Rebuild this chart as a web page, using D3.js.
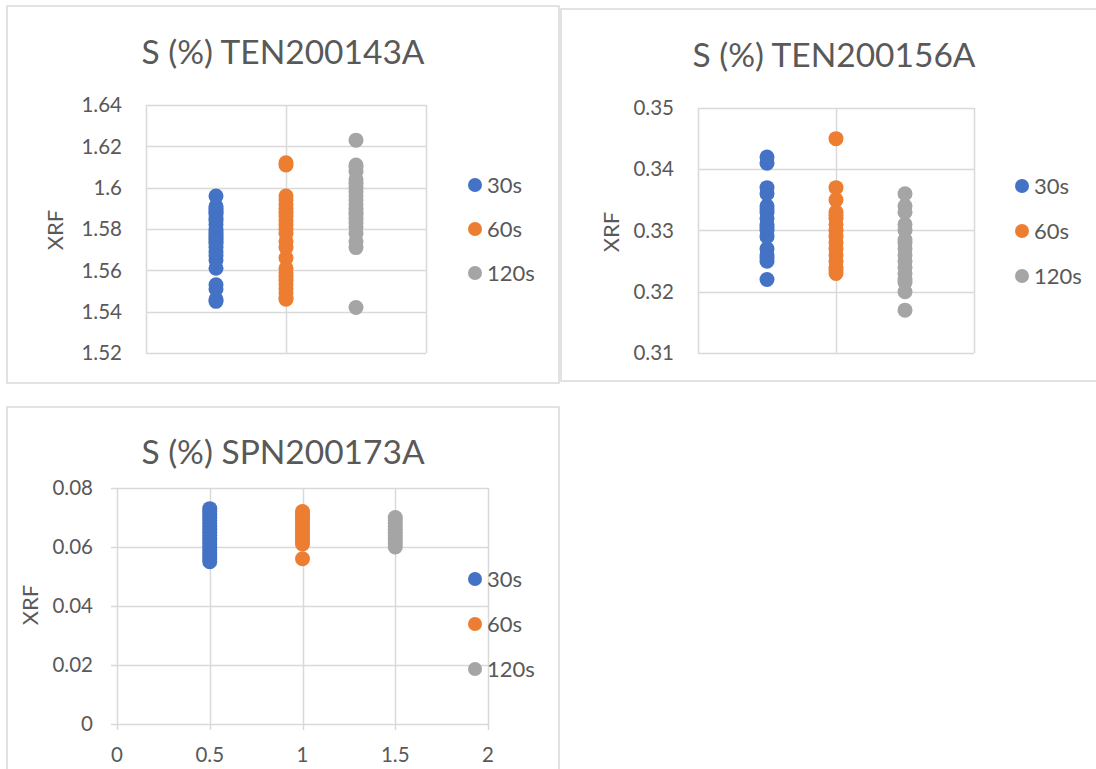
<!DOCTYPE html>
<html>
<head>
<meta charset="utf-8">
<script src="https://cdn.jsdelivr.net/npm/d3@7"></script>
<style>
  html, body { margin: 0; padding: 0; background: #fff; }
  svg { display: block; }
  text { font-family: Lato, "Open Sans", sans-serif; fill: #595959; }
</style>
</head>
<body>
<svg id="chart" width="1096" height="769"></svg>
<script>
// Series labels and the x position each series is plotted at
const seriesNames = ["30s", "60s", "120s"];
const seriesX = [0.5, 1, 1.5];
const seriesColors = ["#4472C4", "#ED7D31", "#A5A5A5"];

// S (%) TEN200143A — XRF readings per measuring time
const ten143_30s = [1.545, 1.546, 1.551, 1.553, 1.561, 1.565, 1.567, 1.569, 1.571, 1.573,
                    1.574, 1.575, 1.576, 1.577, 1.578, 1.579, 1.580, 1.582, 1.584, 1.585,
                    1.587, 1.588, 1.589, 1.590, 1.591, 1.596];
const ten143_60s = [1.546, 1.547, 1.549, 1.551, 1.553, 1.555, 1.557, 1.559, 1.561, 1.566,
                    1.571, 1.574, 1.578, 1.580, 1.582, 1.584, 1.586, 1.588, 1.590, 1.592,
                    1.594, 1.596, 1.611, 1.612];
const ten143_120s = [1.542, 1.571, 1.574, 1.578, 1.581, 1.583, 1.585, 1.587, 1.588, 1.590,
                     1.592, 1.594, 1.596, 1.598, 1.600, 1.602, 1.604, 1.608, 1.610, 1.611,
                     1.623];
const ten143_yTicks = [1.52, 1.54, 1.56, 1.58, 1.6, 1.62, 1.64];

// S (%) TEN200156A
const ten156_30s = [0.322, 0.325, 0.3255, 0.326, 0.327, 0.329, 0.330, 0.3305, 0.331, 0.332,
                    0.333, 0.3335, 0.334, 0.336, 0.337, 0.341, 0.342];
const ten156_60s = [0.323, 0.3235, 0.324, 0.325, 0.326, 0.327, 0.328, 0.329, 0.330, 0.331,
                    0.332, 0.3325, 0.333, 0.335, 0.337, 0.345];
const ten156_120s = [0.317, 0.320, 0.3215, 0.322, 0.323, 0.324, 0.325, 0.326, 0.327, 0.328,
                     0.3285, 0.330, 0.331, 0.333, 0.334, 0.336];
const ten156_yTicks = [0.31, 0.32, 0.33, 0.34, 0.35];

// S (%) SPN200173A
const spn173_30s = [0.055, 0.056, 0.057, 0.058, 0.059, 0.060, 0.061, 0.062, 0.063, 0.064,
                    0.065, 0.066, 0.067, 0.068, 0.069, 0.070, 0.071, 0.072, 0.073];
const spn173_60s = [0.056, 0.061, 0.062, 0.063, 0.064, 0.065, 0.066, 0.067, 0.068, 0.069,
                    0.070, 0.071, 0.072];
const spn173_120s = [0.060, 0.061, 0.062, 0.063, 0.064, 0.065, 0.066, 0.067, 0.068, 0.069,
                     0.070];
const spn173_yTicks = [0, 0.02, 0.04, 0.06, 0.08];

const xTicksCoarse = [0, 1, 2];
const xTicksFine = [0, 0.5, 1, 1.5, 2];

const svg = d3.select("#chart");
const GRID = "#D9D9D9";

svg.append("rect").attr("width", 1096).attr("height", 769).attr("fill", "#fff");

const charts = [
  {
    title: "S (%) TEN200143A",
    series: [ten143_30s, ten143_60s, ten143_120s],
    yDomain: [1.52, 1.64], yTicks: ten143_yTicks, yFmt: d3.format(""),
    xTicks: xTicksCoarse, xLabels: false,
    frame: { x0: 7, y0: 6, x1: 559, y1: 383 },
    plot: { left: 146, right: 426, top: 105, bottom: 353 },
    titlePos: [283, 52], yLabelPos: [55, 230], legendX: 475, legendY: [185, 229, 273]
  },
  {
    title: "S (%) TEN200156A",
    series: [ten156_30s, ten156_60s, ten156_120s],
    yDomain: [0.31, 0.35], yTicks: ten156_yTicks, yFmt: d3.format(".2f"),
    xTicks: xTicksCoarse, xLabels: false,
    frame: { x0: 561, y0: 9, x1: 1100, y1: 381 },
    plot: { left: 698, right: 974, top: 108, bottom: 353 },
    titlePos: [834, 55], yLabelPos: [611, 232], legendX: 1022, legendY: [186, 231, 276]
  },
  {
    title: "S (%) SPN200173A",
    series: [spn173_30s, spn173_60s, spn173_120s],
    yDomain: [0, 0.08], yTicks: spn173_yTicks, yFmt: d3.format(""),
    xTicks: xTicksFine, xLabels: true,
    frame: { x0: 7, y0: 407, x1: 559, y1: 780 },
    plot: { left: 117, right: 488, top: 488, bottom: 724 },
    titlePos: [283, 452], yLabelPos: [30, 605], legendX: 475, legendY: [579, 624, 669]
  }
];

charts.forEach(c => {
  const g = svg.append("g");
  const f = c.frame;

  g.append("rect")
    .attr("x", f.x0).attr("y", f.y0)
    .attr("width", f.x1 - f.x0).attr("height", f.y1 - f.y0)
    .attr("fill", "#fff").attr("stroke", GRID).attr("stroke-width", 1.5);

  const x = d3.scaleLinear().domain([0, 2]).range([c.plot.left, c.plot.right]);
  const y = d3.scaleLinear().domain(c.yDomain).range([c.plot.bottom, c.plot.top]);

  // horizontal gridlines
  g.append("g").selectAll("line").data(c.yTicks).join("line")
    .attr("x1", c.plot.left - (c.xLabels ? 6 : 0)).attr("x2", c.plot.right)
    .attr("y1", d => Math.round(y(d)) + 0.5).attr("y2", d => Math.round(y(d)) + 0.5)
    .attr("stroke", GRID).attr("stroke-width", 1.5);

  // vertical gridlines
  g.append("g").selectAll("line").data(c.xTicks).join("line")
    .attr("x1", d => Math.round(x(d)) + 0.5).attr("x2", d => Math.round(x(d)) + 0.5)
    .attr("y1", c.plot.top).attr("y2", c.plot.bottom + (c.xLabels ? 6 : 0))
    .attr("stroke", GRID).attr("stroke-width", 1.5);

  // y tick labels
  g.append("g").selectAll("text").data(c.yTicks).join("text")
    .attr("x", c.plot.left - 24).attr("y", d => y(d))
    .attr("dy", "0.35em").attr("text-anchor", "end")
    .attr("font-size", 20.5)
    .text(d => c.yFmt(d));

  // x tick labels
  if (c.xLabels) {
    g.append("g").selectAll("text").data(c.xTicks).join("text")
      .attr("x", d => x(d)).attr("y", c.plot.bottom + 31)
      .attr("dy", "0.35em").attr("text-anchor", "middle")
      .attr("font-size", 20.5)
      .text(d => d3.format("")(d));
  }

  // axis title
  g.append("text")
    .attr("transform", `translate(${c.yLabelPos[0]},${c.yLabelPos[1]}) rotate(-90)`)
    .attr("dy", "0.35em").attr("text-anchor", "middle")
    .attr("font-size", 22)
    .text("XRF");

  // chart title
  g.append("text")
    .attr("x", c.titlePos[0]).attr("y", c.titlePos[1])
    .attr("dy", "0.35em").attr("text-anchor", "middle")
    .attr("font-size", 33.5)
    .text(c.title);

  // points
  c.series.forEach((vals, i) => {
    g.append("g").selectAll("circle").data(vals).join("circle")
      .attr("cx", x(seriesX[i])).attr("cy", d => y(d))
      .attr("r", 7.5)
      .attr("fill", seriesColors[i]);
  });

  // legend
  const lg = g.append("g").selectAll("g").data(seriesNames).join("g")
    .attr("transform", (d, i) => `translate(${c.legendX},${c.legendY[i]})`);
  lg.append("circle").attr("r", 7).attr("fill", (d, i) => seriesColors[i]);
  lg.append("text").attr("x", 12).attr("dy", "0.35em")
    .attr("font-size", 22).text(d => d);
});
</script>
</body>
</html>
